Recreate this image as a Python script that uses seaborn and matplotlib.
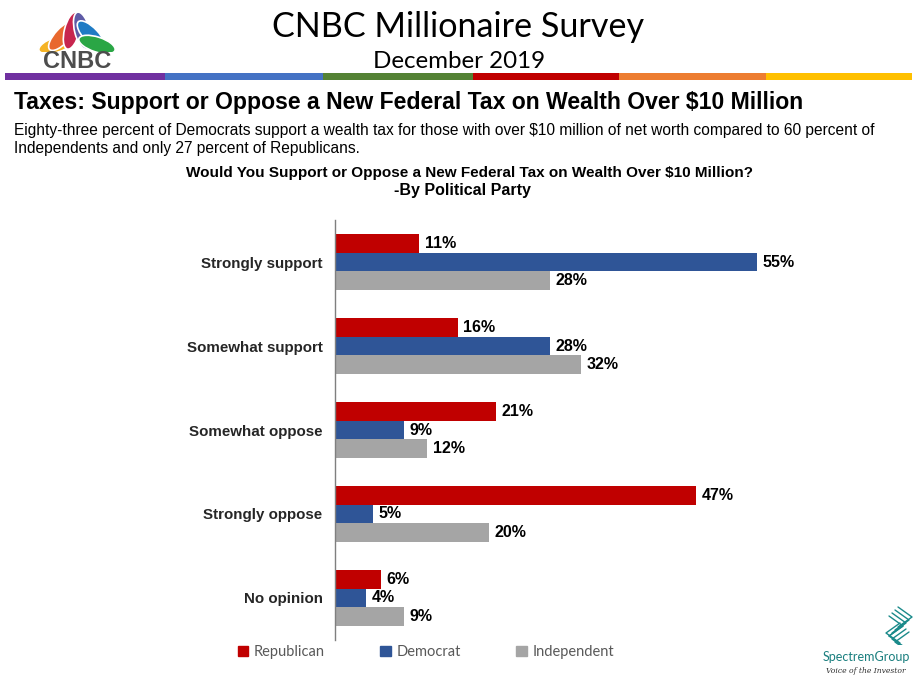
import matplotlib
matplotlib.use("Agg")
import matplotlib.pyplot as plt
from matplotlib.patches import Rectangle, Ellipse
import seaborn as sns
import pandas as pd
import numpy as np

# chart values
categories = ["Strongly support", "Somewhat support", "Somewhat oppose", "Strongly oppose", "No opinion"]
parties = ["Republican", "Democrat", "Independent"]
republican = [11, 16, 21, 47, 6]
democrat = [55, 28, 9, 5, 4]
independent = [28, 32, 12, 20, 9]
party_colors = ["#C00000", "#2F5597", "#A5A5A5"]

df = pd.DataFrame({
    "answer": categories * 3,
    "party": [p for p in parties for _ in categories],
    "pct": republican + democrat + independent,
})

sns.set_theme(style="white")
plt.rcParams["font.family"] = ["Liberation Sans", "DejaVu Sans"]

W, H = 916, 682
fig = plt.figure(figsize=(W / 100, H / 100), dpi=100)

def fx(px):
    return px / W

def fy(py):
    return 1 - py / H

# header
fig.text(fx(458), fy(27), "CNBC Millionaire Survey", ha="center", va="center",
         fontsize=24.6, family=["Lato", "DejaVu Sans"], color="black")
fig.text(fx(459), fy(61), "December 2019", ha="center", va="center",
         fontsize=17.4, family=["Lato", "DejaVu Sans"], color="black")

stripe = [(5, 165, "#7030A0"), (165, 323, "#4472C4"), (323, 473, "#548235"),
          (473, 619, "#C00000"), (619, 766, "#ED7D31"), (766, 912, "#FFC000")]
for x0, x1, c in stripe:
    fig.add_artist(Rectangle((fx(x0), fy(80)), fx(x1 - x0), 7 / H,
                             transform=fig.transFigure, color=c, lw=0))

# CNBC peacock logo (axes units = pixels, origin at x=30, y=10)
lax = fig.add_axes([fx(30), fy(72), fx(90), 62 / H])
lax.set_xlim(0, 90)
lax.set_ylim(62, 0)
lax.axis("off")
feathers = ["#F5B324", "#E8682E", "#C7254E", "#5E5BA6", "#1F7BC4", "#2AA645"]
angles = [-72, -43, -14, 14, 43, 72]
cx, cy = 47, 41
for ang, col in zip(angles, feathers):
    r = np.deg2rad(ang)
    ex = cx + 21 * np.sin(r)
    ey = cy - 21 * np.cos(r)
    lax.add_patch(Ellipse((ex, ey), 15, 38, angle=-ang, facecolor=col,
                          edgecolor="white", lw=1.2))
lax.add_patch(Rectangle((0, 42), 90, 20, color="white", lw=0))
lax.text(47, 51, "CNBC", ha="center", va="center", fontsize=17,
         fontweight="bold", color="#4D4D4D", family=["Liberation Sans"])

# slide titles
fig.text(fx(14), fy(103), "Taxes: Support or Oppose a New Federal Tax on Wealth Over $10 Million",
         ha="left", va="center", fontsize=16.6, fontweight="bold", color="black")
fig.text(fx(14), fy(131),
         "Eighty-three percent of Democrats support a wealth tax for those with over $10 million of net worth compared to 60 percent of",
         ha="left", va="center", fontsize=11.2, color="black")
fig.text(fx(14), fy(149), "Independents and only 27 percent of Republicans.",
         ha="left", va="center", fontsize=11.2, color="black")
fig.text(fx(470), fy(173), "Would You Support or Oppose a New Federal Tax on Wealth Over $10 Million?",
         ha="center", va="center", fontsize=11, fontweight="bold", color="black")
fig.text(fx(462), fy(191), "-By Political Party",
         ha="center", va="center", fontsize=11.5, fontweight="bold", color="black")

# bar chart
ax = fig.add_axes([fx(335), fy(640), fx(880 - 335), 420 / H])
sns.barplot(data=df, y="answer", x="pct", hue="party", order=categories,
            hue_order=parties, palette=party_colors, orient="h", width=0.67,
            saturation=1, linewidth=0, ax=ax, legend=False)
for cont in ax.containers:
    ax.bar_label(cont, fmt="%d%%", padding=4, fontsize=11.5, fontweight="bold", color="black")

ax.set_xlim(0, 71)
ax.set_ylim(4.5, -0.5)
ax.set_xlabel("")
ax.set_ylabel("")
ax.set_xticks([])
ax.tick_params(axis="y", which="major", length=0, pad=9, labelsize=10.9)
for lbl in ax.get_yticklabels():
    lbl.set_fontweight("bold")
ax.set_yticks(np.arange(-0.5, 5, 1), minor=True)
ax.tick_params(axis="y", which="minor", length=5, color="#7F7F7F", width=1, direction="out")
for s in ["top", "right", "bottom"]:
    ax.spines[s].set_visible(False)
ax.spines["left"].set_color("#7F7F7F")
ax.spines["left"].set_linewidth(1)

# legend
handles = [Rectangle((0, 0), 1, 1, color=c) for c in party_colors]
fig.legend(handles, parties, loc="center", bbox_to_anchor=(fx(426), fy(652)), ncol=3,
           frameon=False, handlelength=0.7, handleheight=0.7,
           handletextpad=0.4, columnspacing=3.8, labelcolor="#595959",
           prop={"family": ["Lato", "DejaVu Sans"], "size": 10.5})

# Spectrem Group logo
gax = fig.add_axes([fx(878), fy(645), 40 / W, 40 / H])
gax.set_xlim(0, 40)
gax.set_ylim(40, 0)
gax.axis("off")
for k in range(4):
    o = k * 3
    gax.plot([20 - o, 34 - o, 20 - o], [2 + o, 12 + o, 22 + o], color="#1A8A8A", lw=1)
    gax.plot([22 + o, 8 + o, 22 + o], [18 + o, 28 + o, 38 + o], color="#1A8A8A", lw=1)
fig.text(fx(866), fy(657), "SpectremGroup", ha="center", va="center",
         fontsize=9, color="#1A7F7F", family=["Lato", "DejaVu Sans"])
fig.text(fx(866), fy(671), "Voice of the Investor", ha="center", va="center",
         fontsize=5.5, style="italic", color="#333333", family=["DejaVu Serif"])

fig.savefig("out.png", dpi=100)
